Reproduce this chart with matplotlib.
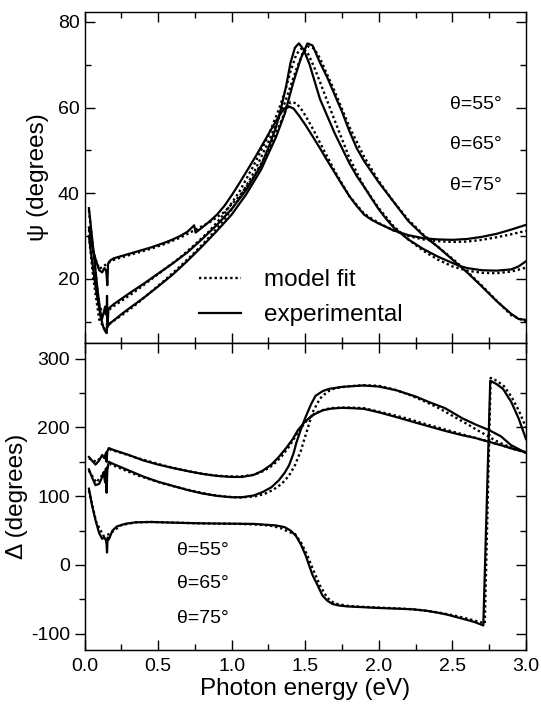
import matplotlib
matplotlib.use('Agg')
import matplotlib.pyplot as plt
from matplotlib.ticker import MultipleLocator

plt.rcParams['font.family'] = ['Liberation Sans', 'DejaVu Sans']

# ---------------- Psi (top panel) ----------------
E_psi55 = [0.03, 0.045, 0.06, 0.08, 0.10, 0.12, 0.135, 0.145, 0.15, 0.155, 0.16, 0.175, 0.2, 0.25, 0.3,
           0.35, 0.4, 0.45, 0.5, 0.55, 0.6, 0.65, 0.7, 0.745, 0.755, 0.8, 0.85, 0.9, 0.95, 1.0, 1.05,
           1.1, 1.17, 1.25, 1.3, 1.34, 1.378, 1.42, 1.46, 1.5, 1.55, 1.6, 1.65, 1.7, 1.75, 1.8, 1.85,
           1.9, 1.95, 2.0, 2.1, 2.2, 2.3, 2.4, 2.5, 2.6, 2.7, 2.8, 2.9, 3.0]
psi55 = [32.0, 29.0, 26.5, 24.0, 22.0, 21.5, 22.5, 22.0, 21.0, 18.5, 23.5, 24.3, 24.8, 25.3, 25.8,
         26.3, 26.8, 27.3, 27.9, 28.5, 29.2, 30.0, 31.0, 32.5, 30.8, 32.0, 33.4, 35.0, 37.0, 39.5, 42.2,
         45.0, 49.0, 53.8, 56.8, 59.0, 60.4, 59.8, 58.0, 56.0, 53.3, 50.5, 47.6, 44.8, 42.0, 39.3, 37.0,
         35.0, 33.8, 32.9, 31.3, 30.2, 29.5, 29.2, 29.1, 29.3, 29.8, 30.5, 31.5, 32.6]

E_psi65 = [0.03, 0.05, 0.07, 0.09, 0.105, 0.117, 0.13, 0.14, 0.15, 0.153, 0.157, 0.162, 0.175, 0.2, 0.25,
           0.3, 0.4, 0.5, 0.6, 0.7, 0.8, 0.9, 1.0, 1.1, 1.2, 1.26, 1.3, 1.333, 1.37, 1.40, 1.43, 1.457,
           1.49, 1.53, 1.6, 1.65, 1.7, 1.75, 1.8, 1.85, 1.9, 1.95, 2.0, 2.05, 2.1, 2.2, 2.3, 2.4, 2.5,
           2.55, 2.6, 2.7, 2.8, 2.9, 2.95, 3.0]
psi65 = [36.5, 30.0, 23.5, 17.0, 13.0, 10.4, 12.0, 13.5, 11.5, 16.0, 9.0, 12.8, 13.4, 14.1, 15.3,
         16.5, 18.8, 21.2, 23.6, 26.2, 29.3, 32.6, 36.3, 40.8, 46.5, 51.5, 55.3, 59.5, 65.0, 70.5, 74.0, 75.0,
         73.5, 70.0, 62.0, 58.0, 54.0, 50.5, 47.0, 44.0, 41.5, 38.8, 36.2, 34.0, 32.0, 29.2, 27.0, 25.2, 23.7,
         23.0, 22.5, 22.0, 21.9, 22.2, 22.9, 24.1]

E_psi75 = [0.03, 0.05, 0.08, 0.11, 0.13, 0.145, 0.151, 0.155, 0.16, 0.17, 0.2, 0.25, 0.3, 0.4, 0.5,
           0.6, 0.7, 0.8, 0.9, 1.0, 1.1, 1.2, 1.3, 1.36, 1.42, 1.47, 1.515, 1.55, 1.6, 1.65, 1.7, 1.75,
           1.8, 1.85, 1.9, 2.0, 2.1, 2.2, 2.3, 2.4, 2.5, 2.6, 2.7, 2.8, 2.9, 2.95, 3.0]
psi75 = [30.0, 24.5, 17.0, 11.0, 8.5, 7.5, 7.3, 11.5, 9.0, 9.5, 10.3, 11.7, 13.0, 15.5, 18.2,
         21.0, 24.2, 27.6, 31.2, 35.0, 39.8, 45.5, 53.0, 58.5, 66.0, 71.5, 75.0, 74.5, 70.5, 67.0, 63.0, 59.0,
         54.5, 50.5, 47.5, 42.5, 38.0, 33.5, 30.2, 27.5, 24.5, 21.5, 18.2, 14.8, 11.8, 10.6, 10.4]

E_model = [0.03, 0.06, 0.1, 0.14, 0.18, 0.25, 0.35, 0.45, 0.55, 0.65, 0.75, 0.85, 0.95, 1.05, 1.15,
           1.25, 1.32, 1.36, 1.40, 1.44, 1.48, 1.52, 1.56, 1.6, 1.7, 1.8, 1.9, 2.0, 2.1, 2.2, 2.3, 2.4,
           2.5, 2.6, 2.7, 2.8, 2.9, 3.0]
psi55_fit = [31.5, 26.0, 22.3, 23.2, 24.2, 25.0, 26.0, 27.0, 28.2, 29.6, 31.4, 33.2, 35.6, 39.2, 43.8,
             50.0, 55.5, 58.8, 61.3, 61.0, 59.3, 57.0, 54.5, 51.8, 45.2, 39.3, 35.2, 33.0, 31.3, 30.0, 29.2, 28.8,
             28.6, 28.7, 29.1, 29.7, 30.4, 31.2]
psi65_fit = [36.0, 26.5, 13.5, 11.5, 13.2, 14.8, 17.2, 19.8, 22.4, 25.0, 28.0, 31.2, 35.2, 40.2, 46.5,
             53.5, 59.5, 63.5, 68.5, 72.5, 74.0, 72.5, 69.5, 66.0, 57.0, 48.2, 41.5, 36.5, 32.3, 29.2, 26.6, 24.5,
             22.9, 21.9, 21.4, 21.3, 21.7, 22.6]
psi75_fit = [30.0, 20.0, 10.5, 8.0, 9.8, 11.4, 14.0, 16.9, 19.8, 22.9, 26.2, 29.8, 33.8, 38.7, 44.8,
             52.0, 57.5, 61.0, 65.0, 69.0, 72.5, 74.3, 73.8, 71.5, 63.8, 55.5, 48.5, 42.8, 38.0, 33.8, 30.4, 27.5,
             24.7, 21.7, 18.4, 14.9, 11.5, 10.0]

# ---------------- Delta (bottom panel) ----------------
E_del55 = [0.03, 0.05, 0.075, 0.1, 0.12, 0.135, 0.145, 0.15, 0.155, 0.165, 0.2, 0.3, 0.4, 0.5, 0.6,
           0.7, 0.8, 0.9, 1.0, 1.07, 1.15, 1.21, 1.27, 1.32, 1.37, 1.415, 1.45, 1.5, 1.56, 1.62, 1.68,
           1.75, 1.82, 1.9, 2.0, 2.12, 2.25, 2.35, 2.45, 2.57, 2.65, 2.75, 2.85, 2.9, 3.0]
del55 = [157, 152, 146, 152, 160, 155, 162, 150, 165, 170, 167, 160, 152, 146, 141,
         136.5, 132.5, 129.5, 128, 128, 131, 137, 146, 157, 170, 183, 196, 209, 219, 225, 227.5,
         228.5, 228, 227, 222, 215, 207, 201, 195, 188.5, 185, 179, 173, 169.5, 164]

E_del65 = [0.03, 0.05, 0.075, 0.1, 0.12, 0.13, 0.14, 0.145, 0.15, 0.155, 0.165, 0.2, 0.3, 0.4, 0.5,
           0.6, 0.7, 0.8, 0.9, 1.0, 1.07, 1.15, 1.21, 1.27, 1.32, 1.36, 1.39, 1.42, 1.44, 1.47, 1.5,
           1.54, 1.57, 1.62, 1.66, 1.75, 1.89, 2.0, 2.12, 2.25, 2.34, 2.45, 2.57, 2.66, 2.75, 2.83, 2.9, 3.0]
del65 = [139, 128, 116, 118, 128, 135, 120, 140, 105, 138, 150, 146.5, 137.5, 128.5, 121,
         115, 109, 104, 100.5, 98.5, 98.5, 101, 106, 113, 123, 134, 145, 162, 178, 197, 214,
         234, 246, 253, 256, 259, 261, 259.5, 254, 245, 237, 228, 213, 204, 196, 187, 174, 163]

E_del75 = [0.03, 0.05, 0.075, 0.1, 0.12, 0.135, 0.145, 0.15, 0.153, 0.157, 0.165, 0.19, 0.22, 0.28, 0.35,
           0.45, 0.6, 0.8, 1.0, 1.15, 1.3, 1.36, 1.40, 1.435, 1.47, 1.503, 1.53, 1.55, 1.585, 1.617, 1.65,
           1.685, 1.73, 1.78, 1.9, 2.0, 2.12, 2.23, 2.32, 2.39, 2.46, 2.53, 2.6, 2.65, 2.71, 2.757, 2.8,
           2.844, 2.9, 2.95, 3.0]
del75 = [111, 88, 65, 46, 38, 40, 36, 30, 18, 40, 37, 50, 56, 60, 62,
         62.5, 61.5, 60.5, 60, 59.7, 57.5, 55, 50, 42.8, 30, 13.7, -3, -15, -30, -44.5, -52,
         -56.8, -59, -60.2, -61.5, -62.6, -63.5, -64.5, -66.5, -69, -72, -76, -80, -83, -88, 268, 263,
         256, 237, 213, 183]

E_model_del = [0.03, 0.08, 0.13, 0.17, 0.25, 0.35, 0.45, 0.55, 0.65, 0.75, 0.85, 0.95, 1.05, 1.15,
               1.22, 1.28, 1.34, 1.39, 1.43, 1.47, 1.51, 1.55, 1.6, 1.65, 1.7, 1.8, 1.9, 2.0, 2.1, 2.2,
               2.3, 2.4, 2.5, 2.6, 2.67, 2.72, 2.76, 2.8, 2.85, 2.9, 2.95, 3.0]
del55_fit = [155, 150, 160, 168, 163, 156, 150, 144, 139, 134.5, 131, 129, 128.5, 131,
             137, 145, 158, 172, 186, 199, 210, 218, 224, 227, 228.5, 229, 228, 223, 218, 212.5,
             206, 200, 194, 188, 184, 181, 178.5, 176, 173, 169.5, 166.5, 163.5]
del65_fit = [137, 120, 133, 147, 140, 131, 124, 117.5, 112, 107, 102.5, 99.5, 98, 99.5,
             103, 109, 118, 130, 145, 166, 194, 222, 242, 252, 257, 260, 261.5, 260.5, 255.5, 248,
             239, 229, 217, 205, 196, 190, 185, 180, 175, 171, 167, 163]
del75_fit = [108, 62, 42, 45, 58, 62, 62.5, 62, 61.3, 60.7, 60.3, 60, 59.7, 59,
             58, 56.5, 53, 48, 45, 33, 16, -5, -30, -48, -56, -60, -61, -62, -63, -64,
             -66, -69, -73, -78, -82, -85, 272, 268, 260, 245, 225, 200]

angle_labels = ['θ=55°', 'θ=65°', 'θ=75°']
legend_labels = ['model fit', 'experimental']

W, H = 541, 708
fig = plt.figure(figsize=(W / 100, H / 100), dpi=100)
left = 84.5 / W
width = 441.5 / W
ax1 = fig.add_axes([left, 1 - 343 / H, width, 331.3 / H])
ax2 = fig.add_axes([left, 1 - 650 / H, width, 307 / H])

solid_kw = dict(color='black', lw=1.6, solid_joinstyle='round')
dot_kw = dict(color='black', lw=1.7, linestyle=(0, (1, 1.2)))

for E, y in [(E_psi55, psi55), (E_psi65, psi65), (E_psi75, psi75)]:
    l_exp, = ax1.plot(E, y, **solid_kw)
for y in [psi55_fit, psi65_fit, psi75_fit]:
    l_fit, = ax1.plot(E_model, y, **dot_kw)

for E, y in [(E_del55, del55), (E_del65, del65), (E_del75, del75)]:
    ax2.plot(E, y, **solid_kw)
for y in [del55_fit, del65_fit, del75_fit]:
    ax2.plot(E_model_del, y, **dot_kw)

ax1.set_xlim(0, 3.0)
ax2.set_xlim(0, 3.0)
ax1.set_ylim(5.0, 82.4)
ax2.set_ylim(-123.7, 322.8)

tick_fs = 14
for ax in (ax1, ax2):
    ax.xaxis.set_major_locator(MultipleLocator(0.5))
    ax.xaxis.set_minor_locator(MultipleLocator(0.25))
    for s in ax.spines.values():
        s.set_linewidth(1.0)
ax1.yaxis.set_major_locator(MultipleLocator(20))
ax1.yaxis.set_minor_locator(MultipleLocator(10))
ax2.yaxis.set_major_locator(MultipleLocator(100))
ax2.yaxis.set_minor_locator(MultipleLocator(50))

ax1.tick_params(which='both', direction='in', top=True, right=True, labelbottom=False,
                labelsize=tick_fs, width=1.0)
ax1.tick_params(which='major', length=7)
ax1.tick_params(which='minor', length=4)

ax2.tick_params(axis='x', which='both', direction='in', top=True, labelsize=tick_fs, width=1.0, pad=6)
ax2.tick_params(axis='y', which='both', direction='out', right=False, labelsize=tick_fs, width=1.0)
ax2.tick_params(which='major', length=7)
ax2.tick_params(which='minor', length=4)
ax2.yaxis.set_major_formatter(matplotlib.ticker.FuncFormatter(lambda v, p: f'{v:.0f}'))
ax1.xaxis.set_major_formatter(matplotlib.ticker.FormatStrFormatter('%.1f'))
ax2.xaxis.set_major_formatter(matplotlib.ticker.FormatStrFormatter('%.1f'))

ax2r = ax2.twinx()
ax2r.set_ylim(ax2.get_ylim())
ax2r.yaxis.set_major_locator(MultipleLocator(100))
ax2r.yaxis.set_minor_locator(MultipleLocator(50))
ax2r.tick_params(which='both', direction='in', labelright=False, width=1.0)
ax2r.tick_params(which='major', length=7)
ax2r.tick_params(which='minor', length=4)

label_fs = 17.5
ax1.set_ylabel('ψ (degrees)', fontsize=label_fs, labelpad=6)
ax2.set_ylabel('Δ (degrees)', fontsize=label_fs, labelpad=2)
ax2.set_xlabel('Photon energy (eV)', fontsize=label_fs, labelpad=2)

for y, lab in zip([60.7, 51.4, 41.8], angle_labels):
    ax1.text(2.486, y, lab, fontsize=14, va='center', ha='left')
for y, lab in zip([21, -27.7, -77.6], angle_labels):
    ax2.text(0.63, y, lab, fontsize=14, va='center', ha='left')

ax1.legend([l_fit, l_exp], legend_labels, loc='lower left', bbox_to_anchor=(0.259, 0.05),
           frameon=False, fontsize=17.5, handlelength=1.75, handletextpad=0.95,
           labelspacing=0.55, borderpad=0, borderaxespad=0)

fig.savefig('out.png', dpi=100)
